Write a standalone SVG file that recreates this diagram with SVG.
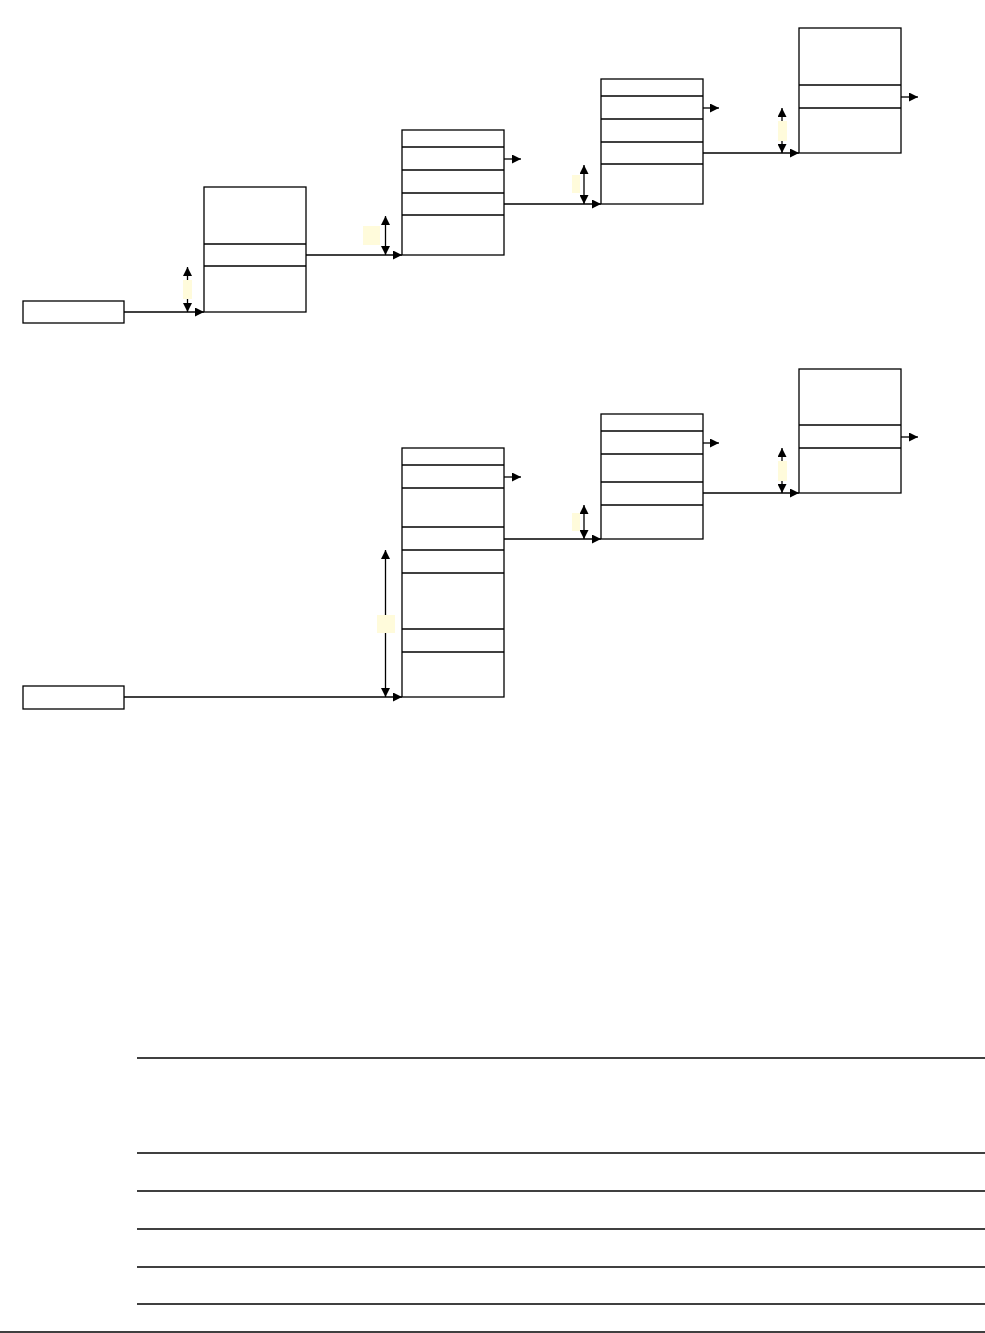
<svg xmlns="http://www.w3.org/2000/svg" width="985" height="1333" viewBox="0 0 985 1333">
<style>
.box{fill:#fff;stroke:#000;stroke-width:1.3}
.div{stroke:#000;stroke-width:1.3}
.con{fill:none;stroke:#000;stroke-width:1.3}
.arr{fill:none;stroke:#000;stroke-width:1.3;marker-end:url(#ah)}
.dbl{fill:none;stroke:#000;stroke-width:1.3;marker-start:url(#ah);marker-end:url(#ah)}
.tag{fill:#FFFBDB;stroke:none}
.rule{stroke:#000;stroke-width:1.3}
</style>
<defs>
<marker id="ah" markerUnits="userSpaceOnUse" markerWidth="10" markerHeight="9" refX="9" refY="4.5" orient="auto-start-reverse">
<path d="M0,0 L9,4.5 L0,9 Z" fill="#000"/>
</marker>
</defs>
<rect width="985" height="1333" fill="#fff"/>
<g id="connectors">
<path class="arr" d="M124,312 H204"/>
<path class="arr" d="M306,255 H402"/>
<path class="arr" d="M504,204 H601"/>
<path class="arr" d="M703,153 H799"/>
<path class="arr" d="M504,159 H521"/>
<path class="arr" d="M703,108 H719"/>
<path class="arr" d="M901,97 H918"/>
<path class="dbl" d="M187.5,267 V312"/>
<path class="dbl" d="M385.5,216 V255"/>
<path class="dbl" d="M584,165 V204"/>
<path class="dbl" d="M782,108 V153"/>
<path class="arr" d="M124,697 H402"/>
<path class="arr" d="M504,539 H601"/>
<path class="arr" d="M703,493 H799"/>
<path class="arr" d="M504,477 H521"/>
<path class="arr" d="M703,443 H719"/>
<path class="arr" d="M901,437 H918"/>
<path class="dbl" d="M385.5,550 V697"/>
<path class="dbl" d="M584,505 V539"/>
<path class="dbl" d="M782,448 V493"/>
<rect class="tag" x="183" y="280" width="9" height="19"/>
<rect class="tag" x="363" y="226" width="17" height="19"/>
<rect class="tag" x="572" y="175" width="8" height="18"/>
<rect class="tag" x="778" y="121" width="9" height="20"/>
<rect class="tag" x="377" y="615" width="18" height="18"/>
<rect class="tag" x="572" y="513" width="8" height="18"/>
<rect class="tag" x="778" y="461" width="9" height="20"/>
</g>
<g id="src1"><rect class="box" x="23" y="301" width="101" height="22"/></g>
<g id="n1">
<rect class="box" x="204" y="187" width="102" height="125"/>
<line class="div" x1="204" y1="244" x2="306" y2="244"/>
<line class="div" x1="204" y1="266" x2="306" y2="266"/>
</g>
<g id="n2">
<rect class="box" x="402" y="130" width="102" height="125"/>
<line class="div" x1="402" y1="147" x2="504" y2="147"/>
<line class="div" x1="402" y1="170" x2="504" y2="170"/>
<line class="div" x1="402" y1="193" x2="504" y2="193"/>
<line class="div" x1="402" y1="215" x2="504" y2="215"/>
</g>
<g id="n3">
<rect class="box" x="601" y="79" width="102" height="125"/>
<line class="div" x1="601" y1="96" x2="703" y2="96"/>
<line class="div" x1="601" y1="119" x2="703" y2="119"/>
<line class="div" x1="601" y1="142" x2="703" y2="142"/>
<line class="div" x1="601" y1="164" x2="703" y2="164"/>
</g>
<g id="n4">
<rect class="box" x="799" y="28" width="102" height="125"/>
<line class="div" x1="799" y1="85" x2="901" y2="85"/>
<line class="div" x1="799" y1="108" x2="901" y2="108"/>
</g>
<g id="src2"><rect class="box" x="23" y="686" width="101" height="23"/></g>
<g id="n5">
<rect class="box" x="402" y="448" width="102" height="249"/>
<line class="div" x1="402" y1="465" x2="504" y2="465"/>
<line class="div" x1="402" y1="488" x2="504" y2="488"/>
<line class="div" x1="402" y1="527" x2="504" y2="527"/>
<line class="div" x1="402" y1="550" x2="504" y2="550"/>
<line class="div" x1="402" y1="573" x2="504" y2="573"/>
<line class="div" x1="402" y1="629" x2="504" y2="629"/>
<line class="div" x1="402" y1="652" x2="504" y2="652"/>
</g>
<g id="n6">
<rect class="box" x="601" y="414" width="102" height="125"/>
<line class="div" x1="601" y1="431" x2="703" y2="431"/>
<line class="div" x1="601" y1="454" x2="703" y2="454"/>
<line class="div" x1="601" y1="482" x2="703" y2="482"/>
<line class="div" x1="601" y1="505" x2="703" y2="505"/>
</g>
<g id="n7">
<rect class="box" x="799" y="369" width="102" height="124"/>
<line class="div" x1="799" y1="425" x2="901" y2="425"/>
<line class="div" x1="799" y1="448" x2="901" y2="448"/>
</g>
<g id="table">
<line class="rule" x1="137" y1="1058" x2="985" y2="1058"/>
<line class="rule" x1="137" y1="1153" x2="985" y2="1153"/>
<line class="rule" x1="137" y1="1191" x2="985" y2="1191"/>
<line class="rule" x1="137" y1="1229" x2="985" y2="1229"/>
<line class="rule" x1="137" y1="1267" x2="985" y2="1267"/>
<line class="rule" x1="137" y1="1304" x2="985" y2="1304"/>
<line class="rule" x1="0" y1="1332" x2="985" y2="1332"/>
</g>
</svg>
